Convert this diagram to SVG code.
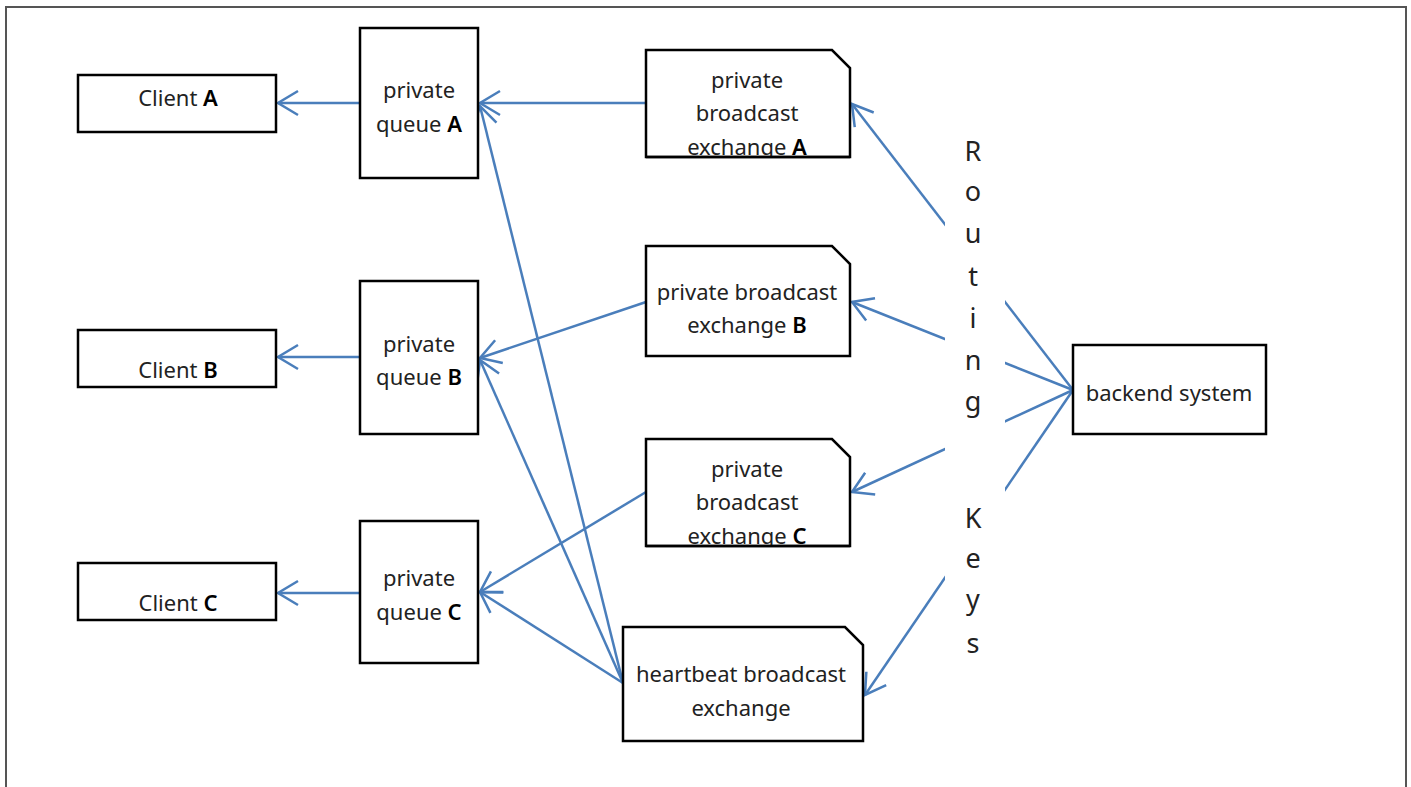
<svg xmlns="http://www.w3.org/2000/svg" width="1411" height="787" viewBox="0 0 1411 787">
<style>
.box{fill:#fff;stroke:#000;stroke-width:2.5}
.lbl{font-family:"Noto Sans","Liberation Sans",sans-serif;font-size:22px;fill:#222;text-anchor:middle}
.b{font-weight:600;fill:#000}
.rk{font-family:"Noto Sans","Liberation Sans",sans-serif;font-size:27px;fill:#222;text-anchor:middle}
.con{stroke:#4a7ebb;stroke-width:2.5;fill:none;marker-end:url(#ah)}
</style>
<defs>
<marker id="ah" markerUnits="userSpaceOnUse" viewBox="-24 -15 27 30" refX="0" refY="0" markerWidth="27" markerHeight="30" orient="auto">
<path d="M-20,-12 L0,0 L-20,12" fill="none" stroke="#4a7ebb" stroke-width="2.5"/>
</marker>
<clipPath id="cA"><path d="M646,50 H832 L850,68 V157 H646 Z"/></clipPath>
<clipPath id="cC"><path d="M646,439 H832 L850,457 V546 H646 Z"/></clipPath>
</defs>
<rect x="6" y="7" width="1400" height="800" fill="#fff" stroke="#555" stroke-width="2"/>
<g id="connectors">
<line class="con" x1="360" y1="103" x2="278" y2="103"/>
<line class="con" x1="360" y1="357" x2="278" y2="357"/>
<line class="con" x1="360" y1="593" x2="278" y2="593"/>
<line class="con" x1="646" y1="103" x2="480" y2="103"/>
<line class="con" x1="646" y1="302" x2="480" y2="358"/>
<line class="con" x1="646" y1="492" x2="480" y2="592"/>
<line class="con" x1="623" y1="683" x2="480" y2="106"/>
<line class="con" x1="623" y1="683" x2="480" y2="360"/>
<line class="con" x1="623" y1="683" x2="480" y2="592"/>
<line class="con" x1="1073" y1="390" x2="852" y2="104"/>
<line class="con" x1="1073" y1="390" x2="852" y2="302"/>
<line class="con" x1="1073" y1="390" x2="852" y2="492"/>
<line class="con" x1="1073" y1="390" x2="865" y2="695"/>
</g>
<g id="routing-keys">
<rect x="945" y="128" width="60" height="540" fill="#fff"/>
<text class="rk" x="973" y="161">R</text>
<text class="rk" x="973" y="201">o</text>
<text class="rk" x="973" y="243">u</text>
<text class="rk" x="973" y="286">t</text>
<text class="rk" x="973" y="328">i</text>
<text class="rk" x="973" y="370">n</text>
<text class="rk" x="973" y="411">g</text>
<text class="rk" x="973" y="528">K</text>
<text class="rk" x="973" y="568">e</text>
<text class="rk" x="973" y="609">y</text>
<text class="rk" x="973" y="653">s</text>
</g>
<g id="client-a"><rect class="box" x="78" y="75" width="198" height="57"/><text class="lbl" x="178" y="106">Client <tspan class="b">A</tspan></text></g>
<g id="client-b"><rect class="box" x="78" y="330" width="198" height="57"/><text class="lbl" x="178" y="378">Client <tspan class="b">B</tspan></text></g>
<g id="client-c"><rect class="box" x="78" y="563" width="198" height="57"/><text class="lbl" x="178" y="611">Client <tspan class="b">C</tspan></text></g>
<g id="queue-a"><rect class="box" x="360" y="28" width="118" height="150"/><text class="lbl" x="419" y="98">private</text><text class="lbl" x="419" y="132">queue <tspan class="b">A</tspan></text></g>
<g id="queue-b"><rect class="box" x="360" y="281" width="118" height="153"/><text class="lbl" x="419" y="352">private</text><text class="lbl" x="419" y="385">queue <tspan class="b">B</tspan></text></g>
<g id="queue-c"><rect class="box" x="360" y="521" width="118" height="142"/><text class="lbl" x="419" y="586">private</text><text class="lbl" x="419" y="620">queue <tspan class="b">C</tspan></text></g>
<g id="exchange-a"><path class="box" d="M646,50 H832 L850,68 V157 H646 Z"/><g clip-path="url(#cA)"><text class="lbl" x="747" y="88">private</text><text class="lbl" x="747" y="121">broadcast</text><text class="lbl" x="747" y="155">exchange <tspan class="b">A</tspan></text></g><path d="M646,157 H850" stroke="#000" stroke-width="2.5"/></g>
<g id="exchange-b"><path class="box" d="M646,246 H832 L850,264 V356 H646 Z"/><text class="lbl" x="747" y="300">private broadcast</text><text class="lbl" x="747" y="333">exchange <tspan class="b">B</tspan></text></g>
<g id="exchange-c"><path class="box" d="M646,439 H832 L850,457 V546 H646 Z"/><g clip-path="url(#cC)"><text class="lbl" x="747" y="477">private</text><text class="lbl" x="747" y="510">broadcast</text><text class="lbl" x="747" y="544">exchange <tspan class="b">C</tspan></text></g><path d="M646,546 H850" stroke="#000" stroke-width="2.5"/></g>
<g id="heartbeat-exchange"><path class="box" d="M623,627 H845 L863,645 V741 H623 Z"/><text class="lbl" x="741" y="682">heartbeat broadcast</text><text class="lbl" x="741" y="716">exchange</text></g>
<g id="backend-system"><rect class="box" x="1073" y="345" width="193" height="89"/><text class="lbl" x="1169" y="401">backend system</text></g>
</svg>
